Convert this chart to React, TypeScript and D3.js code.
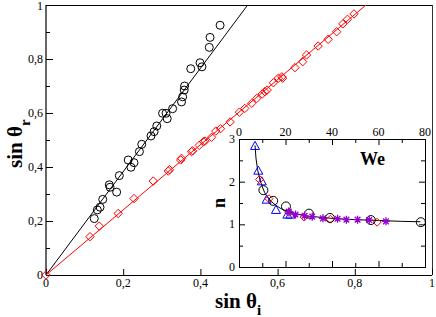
import React from "react";
import * as d3 from "d3";

// ---- Main plot data ----
const circX = [0.125, 0.133, 0.140, 0.147, 0.164, 0.166, 0.183, 0.190, 0.213, 0.220, 0.228, 0.242, 0.248, 0.272, 0.280, 0.287, 0.302, 0.311, 0.314, 0.328, 0.351, 0.354, 0.358, 0.359, 0.375, 0.399, 0.404, 0.423, 0.425, 0.451];
const circY = [0.209, 0.241, 0.251, 0.280, 0.334, 0.325, 0.307, 0.368, 0.426, 0.399, 0.416, 0.457, 0.484, 0.515, 0.531, 0.552, 0.599, 0.599, 0.579, 0.616, 0.641, 0.660, 0.685, 0.700, 0.764, 0.786, 0.771, 0.843, 0.880, 0.925];

const diaX = [0, 0.114, 0.138, 0.187, 0.228, 0.278, 0.317, 0.320, 0.349, 0.351, 0.377, 0.380, 0.397, 0.408, 0.412, 0.429, 0.440, 0.452, 0.477, 0.501, 0.515, 0.533, 0.546, 0.560, 0.567, 0.573, 0.589, 0.602, 0.611, 0.613, 0.645, 0.665, 0.675, 0.705, 0.731, 0.753, 0.769, 0.781, 0.798];
const diaY = [0, 0.142, 0.181, 0.228, 0.283, 0.348, 0.385, 0.390, 0.426, 0.432, 0.457, 0.460, 0.480, 0.494, 0.496, 0.510, 0.533, 0.542, 0.567, 0.603, 0.617, 0.636, 0.654, 0.670, 0.679, 0.685, 0.712, 0.729, 0.734, 0.729, 0.768, 0.790, 0.815, 0.848, 0.873, 0.901, 0.930, 0.947, 0.967];

const blackFitX = [0, 0.5225];
const blackFitY = [0, 1];
const redFitX = [0, 0.829];
const redFitY = [0, 1];

const mainTicks = [0, 0.2, 0.4, 0.6, 0.8, 1];
const mainTickLabels = ["0", "0,2", "0,4", "0,6", "0,8", "1"];
const mainMinorY = [0.1, 0.3, 0.5, 0.7, 0.9];

// ---- Inset data ----
const triWe = [6.9, 8.3, 9.8, 11.9, 15.9, 20.8, 22.1];
const triN = [2.84, 2.26, 2.01, 1.58, 1.34, 1.23, 1.23];
const idiaWe = [8.8, 12.9, 21.5, 28.0, 39.3, 59.4];
const idiaN = [2.05, 1.60, 1.28, 1.17, 1.12, 1.05];
const icircWe = [10.5, 14.7, 20.2, 30.1, 39.1, 56.7, 78.2];
const icircN = [1.80, 1.55, 1.42, 1.25, 1.15, 1.10, 1.05];
const starWe = [21.4, 24.3, 28.2, 31.5, 36.1, 42.4, 46.2, 51.0, 56.0, 63.2];
const starN = [1.30, 1.23, 1.20, 1.18, 1.14, 1.13, 1.11, 1.11, 1.10, 1.07];
const curveWe = [6.9, 7.3, 8, 9, 10, 11, 12, 14, 16, 18, 20, 25, 30, 40, 50, 60, 70, 78];
const curveN = [2.85, 2.55, 2.28, 2.05, 1.88, 1.75, 1.66, 1.53, 1.44, 1.37, 1.32, 1.24, 1.19, 1.14, 1.11, 1.09, 1.07, 1.06];

const insetXTicks = [0, 20, 40, 60, 80];
const insetXMinor = [10, 30, 50, 70];
const insetYTicks = [0, 1, 2, 3];
const insetYMinor = [0.5, 1.5, 2.5];

const tf = { fontFamily: "Liberation Serif" };

export default function App() {
  const x = d3.scaleLinear().domain([0, 1]).range([46, 432]);
  const y = d3.scaleLinear().domain([0, 1]).range([275, 5]);
  const ix = d3.scaleLinear().domain([0, 80]).range([239, 425]);
  const iy = d3.scaleLinear().domain([0, 3]).range([267, 139]);

  const line = d3.line<[number, number]>().x((d) => x(d[0])).y((d) => y(d[1]));
  const iline = d3.line<[number, number]>().x((d) => ix(d[0])).y((d) => iy(d[1]));

  const zip = (a: number[], b: number[]) => a.map((v, i) => [v, b[i]] as [number, number]);

  const diamond = (s: number) => `M0,${-s}L${s},0L0,${s}L${-s},0Z`;
  const tri = (s: number) => `M0,${-s}L${s},${s * 0.8}L${-s},${s * 0.8}Z`;
  const star = (s: number) => {
    const d = s * 0.7071;
    return `M0,${-s}V${s}M${-s},0H${s}M${-d},${-d}L${d},${d}M${-d},${d}L${d},${-d}`;
  };

  return (
    <svg width={436} height={317} style={{ position: "absolute", left: 0, top: 0, background: "#fff" }}>
      <rect x={0} y={0} width={436} height={317} fill="#fff" />
      {/* main frame */}
      <g stroke="#000" strokeWidth={1} fill="none">
        <line x1={x(0)} x2={x(1)} y1={y(1) + 0.5} y2={y(1) + 0.5} />
        <line x1={x(0)} x2={x(1)} y1={y(0) + 0.5} y2={y(0) + 0.5} />
        <line x1={x(0)} x2={x(0)} y1={y(1)} y2={y(0)} strokeWidth={1.5} stroke="#333" />
        <line x1={x(1) + 0.5} x2={x(1) + 0.5} y1={y(1)} y2={y(0)} stroke="#333" />
      </g>
      {/* main ticks */}
      <g stroke="#000" strokeWidth={1}>
        {mainTicks.map((t) => (
          <line key={"ly" + t} x1={x(0)} x2={x(0) + 7} y1={y(t) + 0.5} y2={y(t) + 0.5} />
        ))}
        {mainMinorY.map((t) => (
          <line key={"lmy" + t} x1={x(0)} x2={x(0) + 4} y1={y(t) + 0.5} y2={y(t) + 0.5} />
        ))}
        {mainTicks.map((t) => (
          <line key={"lx" + t} x1={x(t) + 0.5} x2={x(t) + 0.5} y1={y(0)} y2={y(0) - 6} />
        ))}
      </g>
      <g fill="#000">
        {mainTicks.map((t, i) => (
          <text key={"ty" + t} x={x(0) - 3} y={Math.max(y(t) + 4, 10)} textAnchor="end" fontSize={12} style={tf}>
            {mainTickLabels[i]}
          </text>
        ))}
        {mainTicks.map((t, i) => (
          <text key={"tx" + t} x={x(t)} y={y(0) + 12} textAnchor="middle" fontSize={12} style={tf}>
            {mainTickLabels[i]}
          </text>
        ))}
      </g>
      {/* axis titles */}
      <text x={215} y={308} fontSize={21} fontWeight="bold" fill="#000" style={tf}>
        sin θ<tspan fontSize={15} dy={7}>i</tspan>
      </text>
      <text transform="translate(22,168) rotate(-90)" fontSize={21} fontWeight="bold" fill="#000" style={tf}>
        sin θ<tspan fontSize={15} dy={8}>r</tspan>
      </text>

      {/* fit lines */}
      <path d={line(zip(blackFitX, blackFitY)) || ""} stroke="#000" strokeWidth={1} fill="none" />
      <path d={line(zip(redFitX, redFitY)) || ""} stroke="#ff0000" strokeWidth={1} fill="none" />

      {/* data */}
      <g stroke="#000" fill="none" strokeWidth={1}>
        {circX.map((v, i) => (
          <circle key={"c" + i} cx={x(v)} cy={y(circY[i])} r={4} />
        ))}
      </g>
      <g stroke="#ff0000" fill="none" strokeWidth={1}>
        {diaX.map((v, i) => (
          <path key={"d" + i} transform={`translate(${x(v)},${y(diaY[i])})`} d={diamond(4.2)} />
        ))}
      </g>

      {/* inset */}
      <rect x={ix(0)} y={iy(3)} width={ix(80) - ix(0)} height={iy(0) - iy(3)} fill="#fff" stroke="none" />
      <g stroke="#000" strokeWidth={1}>
        {insetXTicks.map((t) => (
          <g key={"ixt" + t}>
            <line x1={ix(t) + 0.5} x2={ix(t) + 0.5} y1={iy(3)} y2={iy(3) + 6} />
            <line x1={ix(t) + 0.5} x2={ix(t) + 0.5} y1={iy(0)} y2={iy(0) - 6} />
          </g>
        ))}
        {insetXMinor.map((t) => (
          <g key={"ixm" + t}>
            <line x1={ix(t) + 0.5} x2={ix(t) + 0.5} y1={iy(3)} y2={iy(3) + 4} />
            <line x1={ix(t) + 0.5} x2={ix(t) + 0.5} y1={iy(0)} y2={iy(0) - 4} />
          </g>
        ))}
        {insetYTicks.map((t) => (
          <g key={"iyt" + t}>
            <line x1={ix(0)} x2={ix(0) + 6} y1={iy(t) + 0.5} y2={iy(t) + 0.5} />
            <line x1={ix(80)} x2={ix(80) - 6} y1={iy(t) + 0.5} y2={iy(t) + 0.5} />
          </g>
        ))}
        {insetYMinor.map((t) => (
          <g key={"iym" + t}>
            <line x1={ix(0)} x2={ix(0) + 4} y1={iy(t) + 0.5} y2={iy(t) + 0.5} />
            <line x1={ix(80)} x2={ix(80) - 4} y1={iy(t) + 0.5} y2={iy(t) + 0.5} />
          </g>
        ))}
      </g>
      <rect x={ix(0) + 0.5} y={iy(3) + 0.5} width={ix(80) - ix(0)} height={iy(0) - iy(3)} fill="none" stroke="#000" strokeWidth={1} />
      <g fill="#000">
        {insetXTicks.map((t) => (
          <text key={"ixl" + t} x={ix(t)} y={iy(3) - 3} textAnchor="middle" fontSize={12} style={tf}>
            {t}
          </text>
        ))}
        {insetYTicks.map((t) => (
          <text key={"iyl" + t} x={ix(0) - 4} y={iy(t) + 4} textAnchor="end" fontSize={12} style={tf}>
            {t}
          </text>
        ))}
      </g>
      <text x={360} y={165} fontSize={18} fontWeight="bold" fill="#000" style={tf}>We</text>
      <text transform="translate(225,203) rotate(-90)" fontSize={18} fontWeight="bold" textAnchor="middle" fill="#000" style={tf}>n</text>

      <path d={iline(zip(curveWe, curveN)) || ""} stroke="#000" strokeWidth={1} fill="none" />
      <g stroke="#0000ff" fill="none" strokeWidth={1}>
        {triWe.map((v, i) => (
          <path key={"t" + i} transform={`translate(${ix(v)},${iy(triN[i])})`} d={tri(4.5)} />
        ))}
      </g>
      <g stroke="#ff0000" fill="none" strokeWidth={1}>
        {idiaWe.map((v, i) => (
          <path key={"id" + i} transform={`translate(${ix(v)},${iy(idiaN[i])})`} d={diamond(4)} />
        ))}
      </g>
      <g stroke="#000" fill="none" strokeWidth={1}>
        {icircWe.map((v, i) => (
          <circle key={"ic" + i} cx={ix(v)} cy={iy(icircN[i])} r={4.5} />
        ))}
      </g>
      <g stroke="#9400d3" fill="none" strokeWidth={1.3}>
        {starWe.map((v, i) => (
          <path key={"s" + i} transform={`translate(${ix(v)},${iy(starN[i])})`} d={star(4)} />
        ))}
      </g>
    </svg>
  );
}
